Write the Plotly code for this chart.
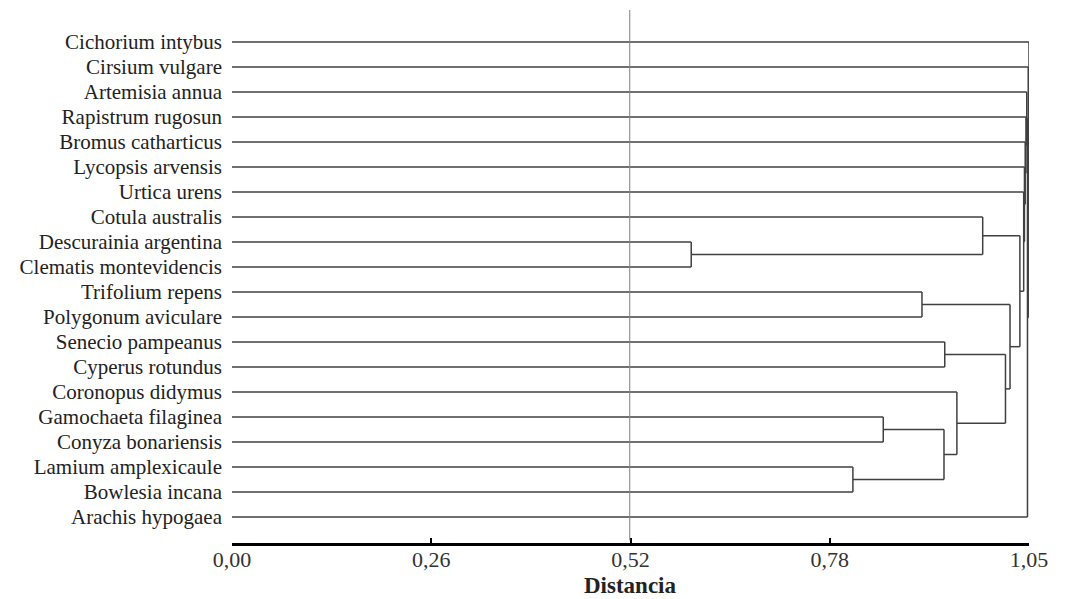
import plotly.graph_objects as go

# ---- data ----
leaves = [
    "Cichorium intybus", "Cirsium vulgare", "Artemisia annua", "Rapistrum rugosun",
    "Bromus catharticus", "Lycopsis arvensis", "Urtica urens", "Cotula australis",
    "Descurainia argentina", "Clematis montevidencis", "Trifolium repens",
    "Polygonum aviculare", "Senecio pampeanus", "Cyperus rotundus",
    "Coronopus didymus", "Gamochaeta filaginea", "Conyza bonariensis",
    "Lamium amplexicaule", "Bowlesia incana", "Arachis hypogaea",
]
# merges: (child_a, child_b, distance); new node ids start at len(leaves)
merge_a = [8, 7, 10, 12, 15, 17, 24, 14, 23, 22, 21, 6, 5, 4, 3, 2, 35, 1, 0]
merge_b = [9, 20, 11, 13, 16, 18, 25, 26, 27, 28, 29, 30, 31, 32, 33, 34, 19, 36, 37]
merge_h = [0.605, 0.989, 0.909, 0.939, 0.858, 0.818, 0.938, 0.955, 1.019, 1.025,
           1.038, 1.043, 1.044, 1.045, 1.046, 1.047, 1.048, 1.049, 1.050]
cut_distance = 0.524
tick_values = [0.0, 0.2625, 0.525, 0.7875, 1.05]
tick_labels = ["0,00", "0,26", "0,52", "0,78", "1,05"]
x_title = "Distancia"

# ---- build dendrogram segments ----
pos = {i: float(i) for i in range(len(leaves))}
hgt = {i: 0.0 for i in range(len(leaves))}
xs, ys = [], []
for k, (a, b, h) in enumerate(zip(merge_a, merge_b, merge_h)):
    nid = len(leaves) + k
    for c in (a, b):
        xs += [hgt[c], h, None]
        ys += [pos[c], pos[c], None]
    xs += [h, h, None]
    ys += [pos[a], pos[b], None]
    pos[nid] = (pos[a] + pos[b]) / 2
    hgt[nid] = h

fig = go.Figure()
fig.add_trace(go.Scatter(x=xs, y=ys, mode="lines",
                         line=dict(color="#404040", width=1.5),
                         hoverinfo="skip", showlegend=False))

fig.add_shape(type="line", x0=cut_distance, x1=cut_distance, xref="x",
              y0=0.005, y1=1.0, yref="paper",
              line=dict(color="#808080", width=1))

serif = "Liberation Serif, Times New Roman, serif"
fig.update_layout(
    width=1079, height=591,
    margin=dict(l=224, r=58, t=2, b=56),
    paper_bgcolor="white", plot_bgcolor="white",
    font=dict(family=serif, color="#222222", size=21),
    xaxis=dict(
        range=[0, 1.05], tickvals=tick_values, ticktext=tick_labels,
        showgrid=False, zeroline=False, showline=True, linecolor="black",
        linewidth=3, ticks="inside", ticklen=5, tickwidth=2, tickcolor="black",
        ticklabelstandoff=-5,
        tickfont=dict(family=serif, size=22, color="#333333"),
    ),
    yaxis=dict(
        range=[20.04, -1.28], tickvals=list(range(len(leaves))), ticktext=leaves,
        showgrid=False, zeroline=False, showline=False, ticks="",
        ticklabelstandoff=9,
        tickfont=dict(family=serif, size=21, color="#222222"),
    ),
)

fig.add_annotation(text="<b>" + x_title + "</b>", xref="paper", yref="paper",
                   x=0.5, y=-42 / 533, xanchor="center", yanchor="middle",
                   showarrow=False,
                   font=dict(family=serif, size=23, color="#222222"))

fig.write_html("out.html")
